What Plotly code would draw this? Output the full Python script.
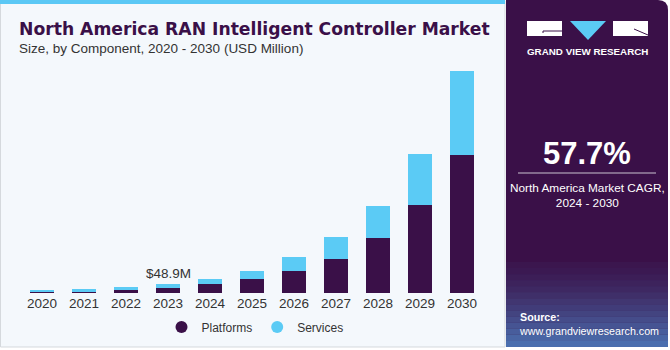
import plotly.graph_objects as go

years = ["2020", "2021", "2022", "2023", "2024", "2025", "2026", "2027", "2028", "2029", "2030"]
platforms = [6, 8, 17, 27.5, 47, 77, 121, 186, 298, 478, 751]
services = [10, 13, 15, 21.4, 27, 43, 72, 118, 172, 276, 456]

title = "North America RAN Intelligent Controller Market"
subtitle = "Size, by Component, 2020 - 2030 (USD Million)"
callout_year = "2023"
callout_text = "$48.9M"
cagr = "57.7%"
cagr_label = "North America Market CAGR,<br>2024 - 2030"

W, H = 670, 350
L, R, T, B = 21, 187, 60, 57
PW, PH = W - L - R, H - T - B
YMAX = PH * 5.43

DARK = "#3A1048"
BLUE = "#5BCBF5"
FONT = "Liberation Sans"


def px(x):
    return (x - L) / PW


def py(y):
    return (H - B - y) / PH


fig = go.Figure()
fig.add_trace(go.Bar(x=years, y=platforms, name="Platforms", marker=dict(color=DARK, line=dict(width=0)),
                     showlegend=False))
fig.add_trace(go.Bar(x=years, y=services, name="Services", marker=dict(color=BLUE, line=dict(width=0)),
                     showlegend=False))
for nm, col in [("Platforms", DARK), ("Services", BLUE)]:
    fig.add_trace(go.Scatter(x=[years[0]], y=[None], mode="markers", name=nm,
                             marker=dict(color=col, size=12, symbol="circle")))

shapes = []
# left panel
shapes.append(dict(type="rect", xref="paper", yref="paper", x0=px(0.5), x1=px(505), y0=py(347), y1=py(0.5),
                   fillcolor="#F4F8FC", line=dict(color="#D5D9DD", width=1), layer="below"))
shapes.append(dict(type="rect", xref="paper", yref="paper", x0=px(0), x1=px(505), y0=py(4), y1=py(0),
                   fillcolor="#5BC8F5", line=dict(width=0), layer="below"))
# right panel
shapes.append(dict(type="path", xref="paper", yref="paper",
                   path=f"M {px(506)} {py(347)} L {px(506)} {py(0)} L {px(658)} {py(0)} "
                        f"Q {px(668)} {py(0)} {px(668)} {py(10)} L {px(668)} {py(347)} Z",
                   fillcolor=DARK, line=dict(width=0), layer="below"))
# gradient at bottom of right panel
n = 14
y_start, y_end = 262, 347
for i in range(n):
    y0 = y_start + (y_end - y_start) * i / n
    y1 = y_start + (y_end - y_start) * (i + 1) / n
    op = 0.05 + 0.75 * (i / (n - 1)) ** 1.3
    shapes.append(dict(type="rect", xref="paper", yref="paper", x0=px(506), x1=px(668), y0=py(y1), y1=py(y0),
                       fillcolor="#4F86C8", opacity=op, line=dict(width=0), layer="below"))
# logo
shapes.append(dict(type="rect", xref="paper", yref="paper", x0=px(527), x1=px(562), y0=py(36), y1=py(21),
                   fillcolor="white", line=dict(width=0), layer="above"))
shapes.append(dict(type="path", xref="paper", yref="paper",
                   path=f"M {px(543)} {py(33)} L {px(543)} {py(31)} L {px(562)} {py(31)}",
                   line=dict(color=DARK, width=1), layer="above"))
shapes.append(dict(type="path", xref="paper", yref="paper",
                   path=f"M {px(570)} {py(21)} L {px(606)} {py(21)} L {px(588)} {py(40)} Z",
                   fillcolor=BLUE, line=dict(width=0), layer="above"))
shapes.append(dict(type="rect", xref="paper", yref="paper", x0=px(613), x1=px(648), y0=py(36), y1=py(21),
                   fillcolor="white", line=dict(width=0), layer="above"))
shapes.append(dict(type="path", xref="paper", yref="paper",
                   path=f"M {px(634)} {py(29)} L {px(648)} {py(35)}",
                   line=dict(color=DARK, width=1), layer="above"))
# separator line under CAGR
shapes.append(dict(type="line", xref="paper", yref="paper", x0=px(518), x1=px(656), y0=py(173), y1=py(173),
                   line=dict(color="#C9C2D0", width=1.2), layer="above"))
fig.update_layout(shapes=shapes)

ann = []
ann.append(dict(text=f"<b>{title}</b>", xref="paper", yref="paper", x=px(17), y=py(29), xanchor="left",
                yanchor="middle", showarrow=False, font=dict(family="DejaVu Sans", size=17.2, color=DARK)))
ann.append(dict(text=subtitle, xref="paper", yref="paper", x=px(17), y=py(48), xanchor="left",
                yanchor="middle", showarrow=False, font=dict(family=FONT, size=13.5, color="#333333")))
idx = years.index(callout_year)
ann.append(dict(text=callout_text, x=idx, y=platforms[idx] + services[idx], xref="x", yref="y",
                yanchor="bottom", yshift=1, showarrow=False, font=dict(family=FONT, size=13.5, color="#333333")))
ann.append(dict(text="<b>GRAND VIEW RESEARCH</b>", xref="paper", yref="paper", x=px(587), y=py(51),
                xanchor="center", yanchor="middle", showarrow=False,
                font=dict(family=FONT, size=9.8, color="white")))
ann.append(dict(text=f"<b>{cagr}</b>", xref="paper", yref="paper", x=px(587), y=py(153), xanchor="center",
                yanchor="middle", showarrow=False, font=dict(family=FONT, size=31, color="white")))
ann.append(dict(text=cagr_label, xref="paper", yref="paper", x=px(587), y=py(195), xanchor="center",
                yanchor="middle", showarrow=False, font=dict(family=FONT, size=11.8, color="white")))
ann.append(dict(text="<b>Source:</b><br>www.grandviewresearch.com", xref="paper", yref="paper", x=px(517),
                y=py(324), xanchor="left", yanchor="middle", align="left", showarrow=False,
                font=dict(family=FONT, size=10.7, color="white")))
fig.update_layout(annotations=ann)

fig.update_layout(
    width=W, height=H,
    margin=dict(l=L, r=R, t=T, b=B, pad=0, autoexpand=False),
    paper_bgcolor="white",
    plot_bgcolor="rgba(0,0,0,0)",
    barmode="stack",
    bargap=0.43,
    showlegend=True,
    legend=dict(orientation="h", x=px(255), xanchor="center", y=py(327), yanchor="middle",
                font=dict(family=FONT, size=12, color="#333333"), itemsizing="constant",
                bgcolor="rgba(0,0,0,0)", traceorder="normal", itemwidth=30),
    xaxis=dict(type="category", categoryorder="array", categoryarray=years, range=[-0.5, len(years) - 0.5],
               showgrid=False, zeroline=False, showline=False, ticks="", automargin=False,
               tickfont=dict(family=FONT, size=13.5, color="#333333"), fixedrange=True),
    yaxis=dict(range=[0, YMAX], visible=False, showgrid=False, zeroline=False, fixedrange=True,
               automargin=False),
)

fig.write_html("out.html")
